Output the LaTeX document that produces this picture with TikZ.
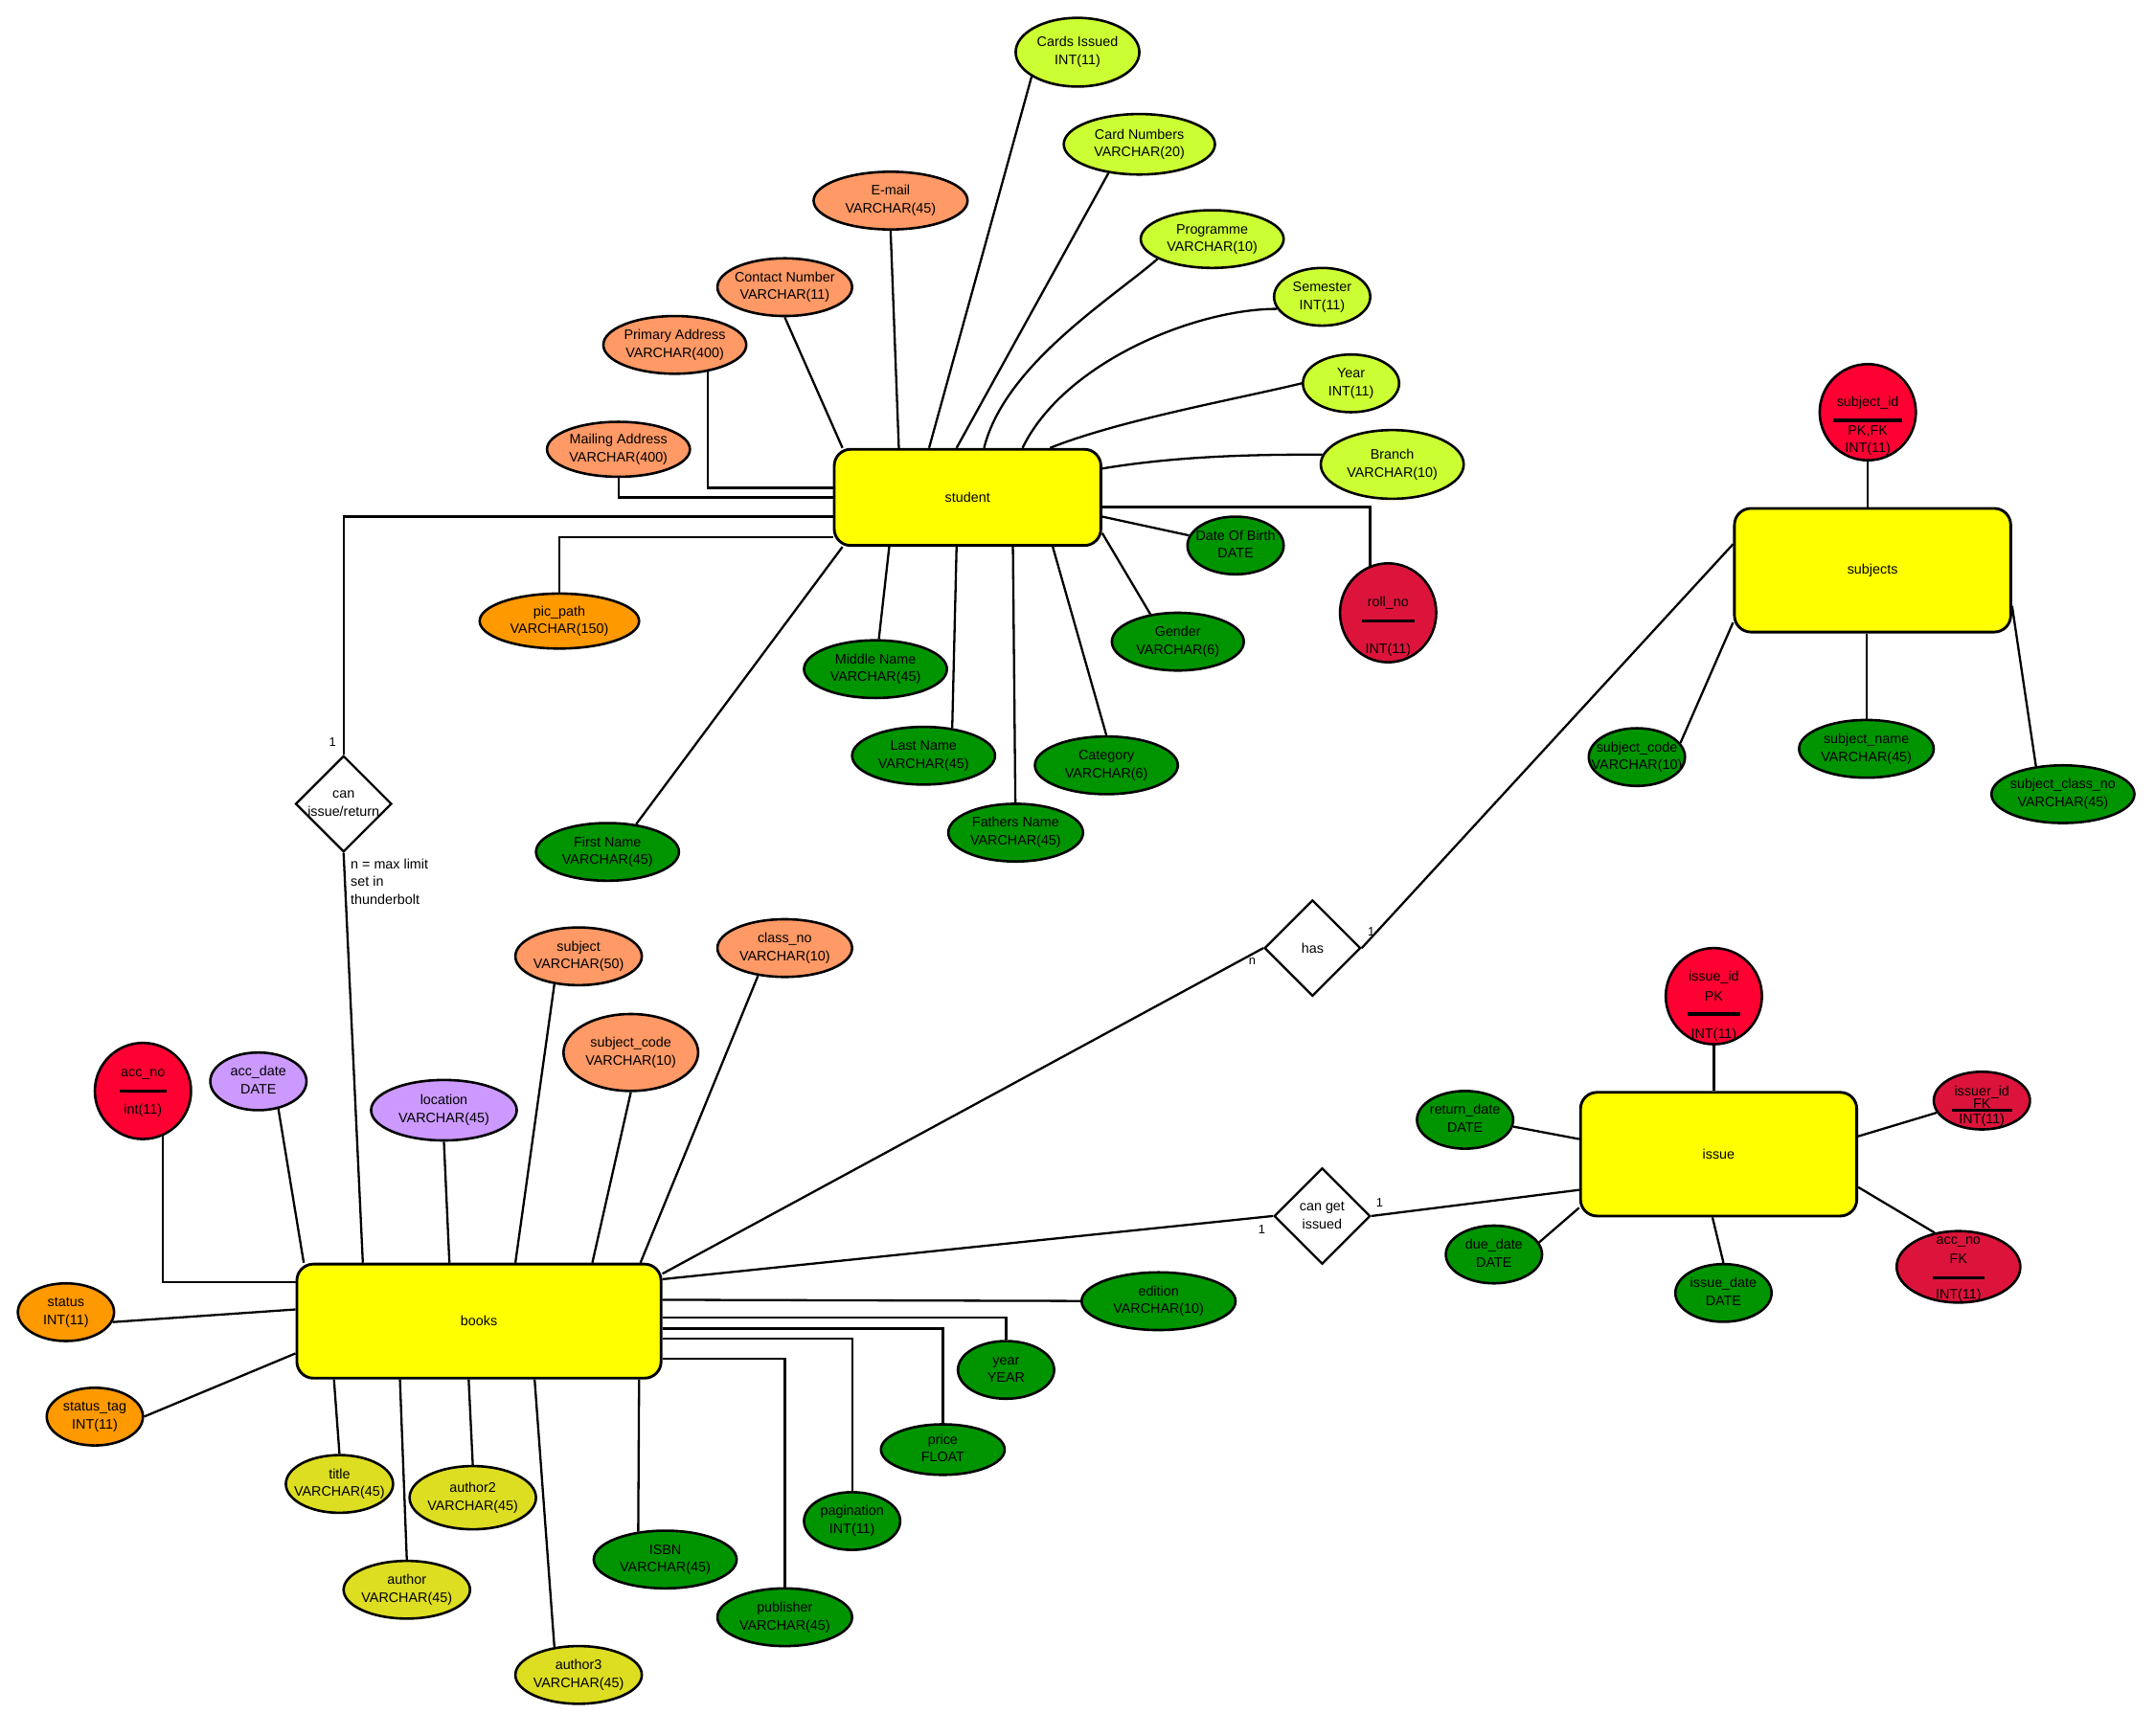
\documentclass[tikz,border=0pt]{standalone}
\usepackage{fontspec}
\setmainfont{Liberation Sans}
\usepackage{tikz}
\usetikzlibrary{shapes.geometric, calc}
\definecolor{entyellow}{RGB}{255,255,0}
\definecolor{limefill}{RGB}{204,255,51}
\definecolor{coralfill}{RGB}{255,153,102}
\definecolor{greenfill}{RGB}{0,148,0}
\definecolor{orangefill}{RGB}{255,153,0}
\definecolor{purplefill}{RGB}{204,153,255}
\definecolor{olivefill}{RGB}{221,221,34}
\definecolor{pkred}{RGB}{255,0,51}
\definecolor{fkred}{RGB}{220,20,60}
\newcommand{\attrtxt}[2]{\makebox[0pt]{\begin{tabular}{@{}c@{}}#1\\#2\end{tabular}}}
\tikzset{
  entity/.style={rectangle, draw=black, fill=entyellow, rounded corners=12pt,
    line width=2pt, font=\fontsize{10}{13}\selectfont},
  attr/.style={ellipse, draw=black, line width=1.8pt, inner sep=0pt,
    minimum height=42, font=\fontsize{10}{13}\selectfont},
  attrlime/.style={attr, fill=limefill},
  attrcoral/.style={attr, fill=coralfill},
  attrgreen/.style={attr, fill=greenfill},
  attrorange/.style={attr, fill=orangefill},
  attrpurple/.style={attr, fill=purplefill},
  attrolive/.style={attr, fill=olivefill},
  keypk/.style={attr, fill=pkred},
  keyfk/.style={attr, fill=fkred},
  keytxt/.style={inner sep=0pt, font=\fontsize{10}{13}\selectfont},
  keybar/.style={line width=2.4pt},
  rel/.style={diamond, draw=black, fill=white, line width=1.6pt, inner sep=0pt,
    minimum width=70, minimum height=70, font=\fontsize{10}{13}\selectfont},
  link/.style={line width=1.6pt, color=black},
  card/.style={inner sep=0pt, font=\fontsize{9}{11}\selectfont},
  note/.style={inner sep=0pt, align=left, font=\fontsize{10}{13}\selectfont}
}
\begin{document}
\begin{tikzpicture}[x=1pt, y=-1pt]
  \useasboundingbox (0,0) rectangle (1568,1263);

  % Entities
  \node[entity, minimum width=194, minimum height=70] (student) at (704,362) {student};
  \node[entity, minimum width=201, minimum height=90] (subjects) at (1362.5,415) {subjects};
  \node[entity, minimum width=201, minimum height=90] (issue) at (1250.5,840) {issue};
  \node[entity, minimum width=265, minimum height=83] (books) at (348.5,961.5) {books};

  % Relationships
  \node[rel] (canir) at (250,585) {\attrtxt{can}{issue/return}};
  \node[rel] (has) at (955,690) {\makebox[0pt]{has}};
  \node[rel] (getiss) at (962,885) {\attrtxt{can get}{issued}};

  % student attributes
  \node[attrcoral, minimum width=104, minimum height=40] (mail) at (450,327) {\attrtxt{Mailing Address}{VARCHAR(400)}};
  \node[attrcoral, minimum width=104] (prim) at (491,251) {\attrtxt{Primary Address}{VARCHAR(400)}};
  \node[attrcoral, minimum width=98] (contact) at (571,209) {\attrtxt{Contact Number}{VARCHAR(11)}};
  \node[attrcoral, minimum width=112] (email) at (648,146) {\attrtxt{E-mail}{VARCHAR(45)}};
  \node[attrlime, minimum width=90, minimum height=50] (cards) at (784,38) {\attrtxt{Cards Issued}{INT(11)}};
  \node[attrlime, minimum width=110, minimum height=44] (cardno) at (829,105) {\attrtxt{Card Numbers}{VARCHAR(20)}};
  \node[attrlime, minimum width=104] (prog) at (882,174) {\attrtxt{Programme}{VARCHAR(10)}};
  \node[attrlime, minimum width=70] (sem) at (962,216) {\attrtxt{Semester}{INT(11)}};
  \node[attrlime, minimum width=70] (syear) at (983,279) {\attrtxt{Year}{INT(11)}};
  \node[attrlime, minimum width=104, minimum height=50] (branch) at (1013,338) {\attrtxt{Branch}{VARCHAR(10)}};
  \node[attrgreen, minimum width=70] (dob) at (899,397) {\attrtxt{Date Of Birth}{DATE}};
  \node[attrgreen, minimum width=96] (gender) at (857,467) {\attrtxt{Gender}{VARCHAR(6)}};
  \node[attrgreen, minimum width=104] (category) at (805,557) {\attrtxt{Category}{VARCHAR(6)}};
  \node[attrgreen, minimum width=98] (fathers) at (739,606) {\attrtxt{Fathers Name}{VARCHAR(45)}};
  \node[attrgreen, minimum width=104] (last) at (672,550) {\attrtxt{Last Name}{VARCHAR(45)}};
  \node[attrgreen, minimum width=104] (middle) at (637,487) {\attrtxt{Middle Name}{VARCHAR(45)}};
  \node[attrgreen, minimum width=104] (first) at (442,620) {\attrtxt{First Name}{VARCHAR(45)}};
  \node[attrorange, minimum width=116, minimum height=40] (pic) at (407,452) {\attrtxt{pic\_path}{VARCHAR(150)}};

  \node[keyfk, minimum width=70, minimum height=72] (roll) at (1010,446) {};
  \node[keytxt] (roll-name) at ($(roll)+(0,-7)$) {roll\_no};
  \draw[keybar] ($(roll)+(-19,6)$) -- ($(roll)+(19,6)$);
  \node[keytxt] (roll-type) at ($(roll)+(0,27)$) {INT(11)};

  % subjects attributes
  \node[keypk, minimum width=70, minimum height=70] (sid) at (1359,300) {};
  \node[keytxt] (sid-name) at ($(sid)+(0,-7)$) {subject\_id};
  \draw[keybar] ($(sid)+(-25,6)$) -- ($(sid)+(25,6)$);
  \node[keytxt] (sid-key) at ($(sid)+(0,14)$) {PK,FK};
  \node[keytxt] (sid-type) at ($(sid)+(0,27)$) {INT(11)};
  \node[attrgreen, minimum width=70] (scode) at (1191,551) {\attrtxt{subject\_code}{VARCHAR(10)}};
  \node[attrgreen, minimum width=98] (sname) at (1358,545) {\attrtxt{subject\_name}{VARCHAR(45)}};
  \node[attrgreen, minimum width=104] (sclass) at (1501,578) {\attrtxt{subject\_class\_no}{VARCHAR(45)}};

  % issue attributes
  \node[keypk, minimum width=70, minimum height=70] (iid) at (1247,725) {};
  \node[keytxt] (iid-name) at ($(iid)+(0,-14)$) {issue\_id};
  \node[keytxt] (iid-key) at (iid) {PK};
  \draw[keybar] ($(iid)+(-19,13)$) -- ($(iid)+(19,13)$);
  \node[keytxt] (iid-type) at ($(iid)+(0,28)$) {INT(11)};
  \node[keyfk, minimum width=70, minimum height=42] (issuer) at (1442,801) {};
  \node[keytxt] (issuer-name) at ($(issuer)+(0,-6)$) {issuer\_id};
  \node[keytxt] (issuer-key) at ($(issuer)+(0,2)$) {FK};
  \draw[keybar] ($(issuer)+(-22,7)$) -- ($(issuer)+(22,7)$);
  \node[keytxt] (issuer-type) at ($(issuer)+(0,14)$) {INT(11)};
  \node[keyfk, minimum width=90, minimum height=52] (iaccno) at (1425,922) {};
  \node[keytxt] (iaccno-name) at ($(iaccno)+(0,-18)$) {acc\_no};
  \node[keytxt] (iaccno-key) at ($(iaccno)+(0,-6)$) {FK};
  \draw[keybar] ($(iaccno)+(-19,8)$) -- ($(iaccno)+(19,8)$);
  \node[keytxt] (iaccno-type) at ($(iaccno)+(0,21)$) {INT(11)};
  \node[attrgreen, minimum width=70] (retdate) at (1066,815) {\attrtxt{return\_date}{DATE}};
  \node[attrgreen, minimum width=70] (duedate) at (1087,913) {\attrtxt{due\_date}{DATE}};
  \node[attrgreen, minimum width=70] (issdate) at (1254,941) {\attrtxt{issue\_date}{DATE}};

  % books attributes
  \node[keypk, minimum width=70, minimum height=70] (accno) at (104,794) {};
  \node[keytxt] (accno-name) at ($(accno)+(0,-12)$) {acc\_no};
  \draw[keybar] ($(accno)+(-17,0)$) -- ($(accno)+(17,0)$);
  \node[keytxt] (accno-type) at ($(accno)+(0,14)$) {int(11)};
  \node[attrpurple, minimum width=70] (accdate) at (188,787) {\attrtxt{acc\_date}{DATE}};
  \node[attrpurple, minimum width=106, minimum height=44] (location) at (323,808) {\attrtxt{location}{VARCHAR(45)}};
  \node[attrcoral, minimum width=92] (bsubject) at (421,696) {\attrtxt{subject}{VARCHAR(50)}};
  \node[attrcoral, minimum width=98] (classno) at (571,690) {\attrtxt{class\_no}{VARCHAR(10)}};
  \node[attrcoral, minimum width=98, minimum height=56] (bsubcode) at (459,766) {\attrtxt{subject\_code}{VARCHAR(10)}};
  \node[attrorange, minimum width=70] (status) at (48,955) {\attrtxt{status}{INT(11)}};
  \node[attrorange, minimum width=70] (statustag) at (69,1031) {\attrtxt{status\_tag}{INT(11)}};
  \node[attrolive, minimum width=78] (title) at (247,1080) {\attrtxt{title}{VARCHAR(45)}};
  \node[attrolive, minimum width=92, minimum height=46] (author2) at (344,1090) {\attrtxt{author2}{VARCHAR(45)}};
  \node[attrolive, minimum width=92] (author) at (296,1157) {\attrtxt{author}{VARCHAR(45)}};
  \node[attrolive, minimum width=92] (author3) at (421,1219) {\attrtxt{author3}{VARCHAR(45)}};
  \node[attrgreen, minimum width=104] (isbn) at (484,1135) {\attrtxt{ISBN}{VARCHAR(45)}};
  \node[attrgreen, minimum width=98] (publisher) at (571,1177) {\attrtxt{publisher}{VARCHAR(45)}};
  \node[attrgreen, minimum width=70] (pagination) at (620,1107) {\attrtxt{pagination}{INT(11)}};
  \node[attrgreen, minimum width=90, minimum height=34] (price) at (686,1055) {\attrtxt{price}{FLOAT}};
  \node[attrgreen, minimum width=70] (byear) at (732,997) {\attrtxt{year}{YEAR}};
  \node[attrgreen, minimum width=112] (edition) at (843,947) {\attrtxt{edition}{VARCHAR(10)}};

  % student links
  \draw[link] (mail) |- (student.west);
  \draw[link] (prim.-39) |- ([yshift=7pt]student.west);
  \draw[link] (contact.south) -- ([xshift=7pt]student.north west);
  \draw[link] (email.south) -- ([xshift=48pt]student.north west);
  \draw[link] (cards.208) -- ([xshift=70pt]student.north west);
  \draw[link] (cardno.223) -- ([xshift=90pt]student.north west);
  \draw[link] ([xshift=110pt]student.north west) .. controls +(15,-60) and +(-35,30) .. (prog.200);
  \draw[link] ([xshift=138pt]student.north west) .. controls +(30,-62) and +(-60,0) .. (sem.195);
  \draw[link] ([xshift=158pt]student.north west) .. controls +(50,-20) and +(-50,12) .. (syear.west);
  \draw[link] ([yshift=-15pt]student.north east) .. controls +(60,-10) and +(-40,0) .. (branch.172);
  \draw[link] ([yshift=-7pt]student.east) -| (roll.111);
  \draw[link] ([yshift=-14pt]student.east) -- (dob);
  \draw[link] ([yshift=-26pt]student.east) -- (gender.135);
  \draw[link] ([xshift=160pt]student.south west) -- (category.north);
  \draw[link] ([xshift=131pt]student.south west) -- (fathers);
  \draw[link] ([xshift=90pt]student.south west) -- (last.44);
  \draw[link] ([xshift=41pt]student.south west) -- (middle);
  \draw[link] ([xshift=7pt]student.south west) -- (first.44);
  \draw[link] ([yshift=7pt]student.south west) -| (pic);

  % relationship links
  \draw[link] ([yshift=-14pt]student.west) -| (canir.north);
  \draw[link] (canir.south) -- ([xshift=49pt]books.north west);
  \draw[link] ([yshift=-8pt]books.north east) -- (has.west);
  \draw[link] (has.east) -- ([yshift=-27pt]subjects.north west);
  \draw[link] ([yshift=-12pt]books.north east) -- (getiss.west);
  \draw[link] (getiss.east) -- ([yshift=20pt]issue.south west);
  \node[card] (canir-one) at ($(canir.north)+(-8,-9)$) {1};
  \node[note, anchor=north west] (limit) at ($(canir.south)+(5,4)$) {n = max limit\\set in\\thunderbolt};
  \node[card] (has-n) at ($(has.west)+(-8,10)$) {n};
  \node[card] (has-one) at ($(has.east)+(7,-12)$) {1};
  \node[card] (getiss-one) at ($(getiss.west)+(-8,10)$) {1};
  \node[card] (getiss-two) at ($(getiss.east)+(6,-10)$) {1};

  % subjects links
  \draw[link] (sid) -- (sid |- subjects.north);
  \draw[link] (scode.18) -- ([yshift=8pt]subjects.south west);
  \draw[link] (sname) -- (sname |- subjects.south);
  \draw[link] (sclass.134) -- ([yshift=20pt]subjects.south east);

  % issue links
  \draw[link] (iid) -- (iid |- issue.north);
  \draw[link] (retdate.-8) -- ([yshift=-35pt]issue.north west);
  \draw[link] (duedate.15) -- ([yshift=7pt]issue.south west);
  \draw[link] (issdate.north) -- ([xshift=97pt]issue.south west);
  \draw[link] (issuer.195) -- ([yshift=-33pt]issue.north east);
  \draw[link] (iaccno.125) -- ([yshift=22pt]issue.south east);

  % books links
  \draw[link] (accno.-66) |- ([yshift=-14pt]books.north west);
  \draw[link] (accdate.-54) -- ([xshift=6pt]books.north west);
  \draw[link] (location.south) -- ([xshift=112pt]books.north west);
  \draw[link] (bsubject.229) -- ([xshift=160pt]books.north west);
  \draw[link] (bsubcode.south) -- ([xshift=216pt]books.north west);
  \draw[link] (classno.226) -- ([xshift=251pt]books.north west);
  \draw[link] (status.-12) -- ([yshift=-34pt]books.north west);
  \draw[link] (statustag.east) -- ([yshift=19pt]books.south west);
  \draw[link] (title.north) -- ([xshift=28pt]books.south west);
  \draw[link] (author.north) -- ([xshift=76pt]books.south west);
  \draw[link] (author2.north) -- ([xshift=126pt]books.south west);
  \draw[link] (author3.131) -- ([xshift=174pt]books.south west);
  \draw[link] (isbn.134) -- ([xshift=250pt]books.south west);
  \draw[link] ([yshift=-70pt]books.north east) -| (publisher);
  \draw[link] ([yshift=-55pt]books.north east) -| (pagination);
  \draw[link] ([yshift=-48pt]books.north east) -| (price);
  \draw[link] ([yshift=-40pt]books.north east) -| (byear);
  \draw[link] ([yshift=-27pt]books.north east) -- (edition);
\end{tikzpicture}
\end{document}
